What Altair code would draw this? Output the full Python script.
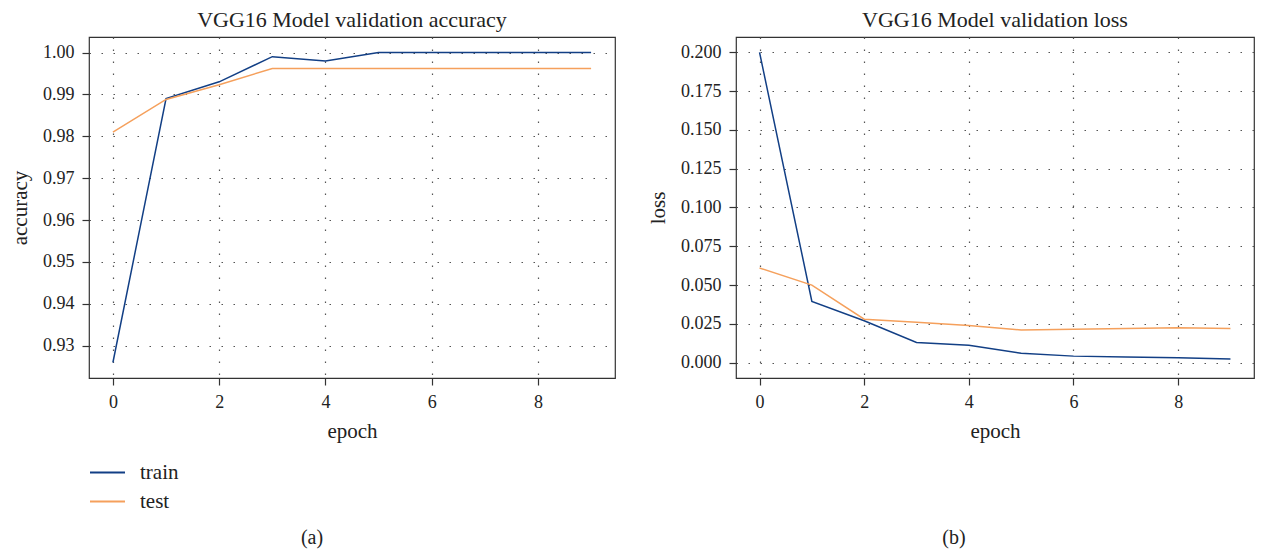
import altair as alt
import pandas as pd

epochs = list(range(10))
acc_train = [0.926, 0.989, 0.993, 0.999, 0.998, 1.000, 1.000, 1.000, 1.000, 1.000]
acc_test = [0.981, 0.9888, 0.9923, 0.9962, 0.9962, 0.9962, 0.9962, 0.9962, 0.9962, 0.9962]
loss_train = [0.200, 0.0395, 0.027, 0.013, 0.0112, 0.006, 0.0042, 0.0037, 0.0031, 0.0024]
loss_test = [0.061, 0.050, 0.028, 0.026, 0.024, 0.021, 0.0215, 0.022, 0.0225, 0.022]

series = ["train", "test"]
colors = ["#123f85", "#f5a05c"]
acc_ticks = [0.93, 0.94, 0.95, 0.96, 0.97, 0.98, 0.99, 1.00]
loss_ticks = [0.0, 0.025, 0.05, 0.075, 0.1, 0.125, 0.15, 0.175, 0.2]
x_ticks = [0, 2, 4, 6, 8]

FONT = "Liberation Serif"
H = 341


def long_df(train, test):
    rows = []
    for e, v in zip(epochs, train):
        rows.append({"epoch": e, "value": v, "series": "train"})
    for e, v in zip(epochs, test):
        rows.append({"epoch": e, "value": v, "series": "test"})
    return pd.DataFrame(rows)


def panel(train, test, title, ytitle, ydomain, yticks, fmt, caption, cap_x, width):
    df = long_df(train, test)
    lines = alt.Chart(df).mark_line(strokeWidth=1.5).encode(
        x=alt.X(
            "epoch:Q",
            scale=alt.Scale(domain=[-0.45, 9.45], nice=False, zero=False),
            axis=alt.Axis(values=x_ticks, format="d", title="epoch", titlePadding=9),
        ),
        y=alt.Y(
            "value:Q",
            scale=alt.Scale(domain=ydomain, nice=False, zero=False),
            axis=alt.Axis(values=yticks, format=fmt, title=ytitle, titlePadding=12),
        ),
        color=alt.Color(
            "series:N",
            scale=alt.Scale(domain=series, range=colors),
            legend=alt.Legend(
                title=None,
                orient="none",
                legendX=0,
                legendY=417,
                symbolType="stroke",
                symbolSize=1225,
                symbolStrokeWidth=2,
                labelFontSize=21,
                labelFont=FONT,
                labelColor="#222",
                labelOffset=14,
                rowPadding=-5,
            ),
        ),
        detail="series:N",
    )
    cap = alt.Chart(pd.DataFrame({"t": [caption]})).mark_text(
        font=FONT, fontSize=20, color="#222", align="center", baseline="middle"
    ).encode(text="t:N", x=alt.value(cap_x), y=alt.value(501))
    return alt.layer(lines, cap).properties(
        width=width,
        height=H,
        title=alt.TitleParams(title, font=FONT, fontSize=22, fontWeight="normal",
                              color="#222", anchor="middle", frame="group", offset=5),
    )


left = panel(acc_train, acc_test, "VGG16 Model validation accuracy", "accuracy",
             [0.9223, 1.0037], acc_ticks, ".2f", "(a)", 223, 526)
right = panel(loss_train, loss_test, "VGG16 Model validation loss", "loss",
              [-0.0099, 0.2099], loss_ticks, ".3f", "(b)", 218, 518)

chart = alt.hconcat(left, right, spacing=30).properties(
    padding={"left": 0, "top": 0, "right": 0, "bottom": 0}
).configure_view(
    stroke="#333", strokeWidth=1.2
).configure_axis(
    domain=False,
    grid=True,
    gridColor="#555",
    gridDash=[1.5, 10.5],
    gridWidth=1.2,
    ticks=True,
    tickSize=7,
    tickColor="#333",
    tickWidth=1.2,
    labelFont=FONT,
    labelFontSize=18,
    labelColor="#222",
    labelPadding=8,
    titleFont=FONT,
    titleFontSize=21,
    titleFontWeight="normal",
    titleColor="#222",
)

chart.save("out.html", embed_options={"renderer": "svg", "actions": False})
